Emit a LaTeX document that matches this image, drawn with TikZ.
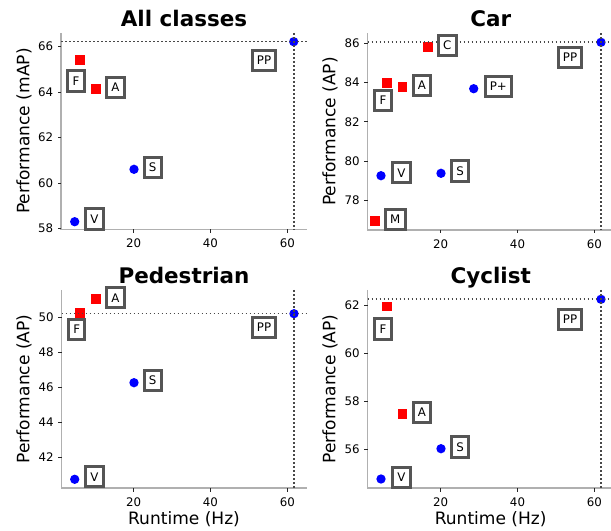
\documentclass[tikz,border=0pt]{standalone}
\usepackage{fontspec}
\setmainfont{DejaVu Sans}
\usepackage{xcolor}

\begin{document}
\begin{tikzpicture}[x=0.75pt,y=0.75pt,yscale=-1,xscale=1,
    spine/.style={draw={rgb, 255:red, 176; green, 176; blue, 176 }, line width=1.1pt},
    tickmark/.style={draw={rgb, 255:red, 38; green, 38; blue, 38 }, line width=0.7pt},
    ylab/.style={anchor=east, inner sep=0pt, xshift=-3pt, font=\fontsize{8.85}{10}\selectfont},
    xlab/.style={anchor=north, inner sep=0pt, yshift=-4.4pt, font=\fontsize{8.85}{10}\selectfont},
    axlabel/.style={inner sep=0pt, font=\fontsize{12.8}{15}\selectfont},
    paneltitle/.style={anchor=base, inner sep=0pt, font=\fontsize{16.1}{19}\selectfont\bfseries},
    best/.style={draw={rgb, 255:red, 72; green, 72; blue, 72 }, line width=1.2pt, dash pattern=on 1.2pt off 1.8pt},
    redmark/.style={rectangle, fill=red, minimum size=7.2pt, inner sep=0pt},
    bluemark/.style={circle, fill=blue, minimum size=7pt, inner sep=0pt},
    tag/.style={draw={rgb, 255:red, 85; green, 85; blue, 85 }, line width=2.25pt, fill=white, inner xsep=3.5pt, inner ysep=0pt, minimum height=15.2pt, font=\fontsize{8.85}{10}\selectfont}
  ]
  \useasboundingbox (0,0) rectangle (611,531);

  %%%%%%%%%%%%%%%% All classes
  % Axes
  \draw[spine] (61,33) -- (61,229.3) -- (307,229.3);
  \draw[tickmark] (61,46.7) -- (57.5,46.7) node[ylab] (allY66) {66};
  \draw[tickmark] (61,92.2) -- (57.5,92.2) node[ylab] (allY64) {64};
  \draw[tickmark] (61,137.7) -- (57.5,137.7) node[ylab] (allY62) {62};
  \draw[tickmark] (61,183.2) -- (57.5,183.2) node[ylab] (allY60) {60};
  \draw[tickmark] (61,228.7) -- (57.5,228.7) node[ylab] (allY58) {58};
  \draw[tickmark] (133.7,229.3) -- (133.7,232.8) node[xlab] (allX20) {20};
  \draw[tickmark] (210.5,229.3) -- (210.5,232.8) node[xlab] (allX40) {40};
  \draw[tickmark] (287.3,229.3) -- (287.3,232.8) node[xlab] (allX60) {60};
  \node[axlabel, rotate=90] (allYlabel) at (24,131) {Performance (mAP)};
  \node[paneltitle] (allTitle) at (184,26.6) {All classes};
  % Methods
  \node[redmark] (allF) at (80,60) {};
  \node[redmark] (allA) at (95.7,89) {};
  \node[bluemark] (allS) at (134,169.3) {};
  \node[bluemark] (allV) at (74.7,221.7) {};
  \node[bluemark] (allPP) at (293.7,41.7) {};
  % Best
  \draw[best] (61,41.7) -- (307,41.7);
  \draw[best] (293.7,33) -- (293.7,229.3);
  % Tags
  \node[tag] (allFtag) at (76,81) {F};
  \node[tag] (allAtag) at (115.3,87.7) {A};
  \node[tag] (allStag) at (152.7,167.7) {S};
  \node[tag] (allVtag) at (94.3,219) {V};
  \node[tag] (allPPtag) at (264,60.3) {PP};

  %%%%%%%%%%%%%%%% Car
  % Axes
  \draw[spine] (367.7,33.3) -- (367.7,230) -- (611,230);
  \draw[tickmark] (367.7,43.3) -- (364.2,43.3) node[ylab] (carY86) {86};
  \draw[tickmark] (367.7,82.6) -- (364.2,82.6) node[ylab] (carY84) {84};
  \draw[tickmark] (367.7,121.8) -- (364.2,121.8) node[ylab] (carY82) {82};
  \draw[tickmark] (367.7,161) -- (364.2,161) node[ylab] (carY80) {80};
  \draw[tickmark] (367.7,200.3) -- (364.2,200.3) node[ylab] (carY78) {78};
  \draw[tickmark] (440.7,230) -- (440.7,233.5) node[xlab] (carX20) {20};
  \draw[tickmark] (517.5,230) -- (517.5,233.5) node[xlab] (carX40) {40};
  \draw[tickmark] (594.3,230) -- (594.3,233.5) node[xlab] (carX60) {60};
  \node[axlabel, rotate=90] (carYlabel) at (330,131.5) {Performance (AP)};
  \node[paneltitle] (carTitle) at (490.7,26.6) {Car};
  % Methods
  \node[redmark] (carC) at (427.7,47.3) {};
  \node[redmark] (carF) at (386.7,83) {};
  \node[redmark] (carA) at (402.3,87.3) {};
  \node[redmark] (carM) at (374.7,221.3) {};
  \node[bluemark] (carPplus) at (473.7,88.7) {};
  \node[bluemark] (carV) at (381,175.7) {};
  \node[bluemark] (carS) at (441,173.3) {};
  \node[bluemark] (carPP) at (601,42.3) {};
  % Best
  \draw[best] (367.7,42.3) -- (611,42.3);
  \draw[best] (601,33.3) -- (601,230);
  % Tags
  \node[tag] (carCtag) at (447.3,45.7) {C};
  \node[tag] (carAtag) at (422,85.3) {A};
  \node[tag] (carFtag) at (383,100.7) {F};
  \node[tag] (carPplustag) at (498.3,86.7) {P+};
  \node[tag] (carVtag) at (401.3,172.7) {V};
  \node[tag] (carStag) at (460,171) {S};
  \node[tag] (carMtag) at (395.3,219.3) {M};
  \node[tag] (carPPtag) at (570,57.3) {PP};

  %%%%%%%%%%%%%%%% Pedestrian
  % Axes
  \draw[spine] (61.7,290) -- (61.7,488) -- (307,488);
  \draw[tickmark] (61.7,317.7) -- (58.2,317.7) node[ylab] (pedY50) {50};
  \draw[tickmark] (61.7,352.6) -- (58.2,352.6) node[ylab] (pedY48) {48};
  \draw[tickmark] (61.7,387.5) -- (58.2,387.5) node[ylab] (pedY46) {46};
  \draw[tickmark] (61.7,422.4) -- (58.2,422.4) node[ylab] (pedY44) {44};
  \draw[tickmark] (61.7,457.3) -- (58.2,457.3) node[ylab] (pedY42) {42};
  \draw[tickmark] (133.7,488) -- (133.7,491.5) node[xlab] (pedX20) {20};
  \draw[tickmark] (210.5,488) -- (210.5,491.5) node[xlab] (pedX40) {40};
  \draw[tickmark] (287.3,488) -- (287.3,491.5) node[xlab] (pedX60) {60};
  \node[axlabel, rotate=90] (pedYlabel) at (24,389) {Performance (AP)};
  \node[axlabel] (pedXlabel) at (184,519.5) {Runtime (Hz)};
  \node[paneltitle] (pedTitle) at (184,283.3) {Pedestrian};
  % Methods
  \node[redmark] (pedA) at (96,299.3) {};
  \node[redmark] (pedF) at (80,313) {};
  \node[bluemark] (pedS) at (134,382.7) {};
  \node[bluemark] (pedV) at (74.7,479.3) {};
  \node[bluemark] (pedPP) at (294,313.7) {};
  % Best
  \draw[best] (61.7,313.7) -- (307,313.7);
  \draw[best] (294,290) -- (294,488);
  % Tags
  \node[tag] (pedAtag) at (115.3,297.7) {A};
  \node[tag] (pedFtag) at (76.7,329.3) {F};
  \node[tag] (pedStag) at (152.7,380.7) {S};
  \node[tag] (pedVtag) at (94.3,476.7) {V};
  \node[tag] (pedPPtag) at (264,327.3) {PP};

  %%%%%%%%%%%%%%%% Cyclist
  % Axes
  \draw[spine] (367.7,290) -- (367.7,488) -- (611,488);
  \draw[tickmark] (367.7,305.3) -- (364.2,305.3) node[ylab] (cycY62) {62};
  \draw[tickmark] (367.7,353.3) -- (364.2,353.3) node[ylab] (cycY60) {60};
  \draw[tickmark] (367.7,401.3) -- (364.2,401.3) node[ylab] (cycY58) {58};
  \draw[tickmark] (367.7,449.3) -- (364.2,449.3) node[ylab] (cycY56) {56};
  \draw[tickmark] (440.7,488) -- (440.7,491.5) node[xlab] (cycX20) {20};
  \draw[tickmark] (517.5,488) -- (517.5,491.5) node[xlab] (cycX40) {40};
  \draw[tickmark] (594.3,488) -- (594.3,491.5) node[xlab] (cycX60) {60};
  \node[axlabel, rotate=90] (cycYlabel) at (330,389) {Performance (AP)};
  \node[axlabel] (cycXlabel) at (490.7,519.5) {Runtime (Hz)};
  \node[paneltitle] (cycTitle) at (490.7,283.3) {Cyclist};
  % Methods
  \node[redmark] (cycF) at (387,306.7) {};
  \node[redmark] (cycA) at (402.3,413.7) {};
  \node[bluemark] (cycS) at (441,448.7) {};
  \node[bluemark] (cycV) at (381,479) {};
  \node[bluemark] (cycPP) at (601,299.3) {};
  % Best
  \draw[best] (367.7,299.3) -- (611,299.3);
  \draw[best] (601,290) -- (601,488);
  % Tags
  \node[tag] (cycFtag) at (383,329) {F};
  \node[tag] (cycAtag) at (422,412.3) {A};
  \node[tag] (cycStag) at (460,447) {S};
  \node[tag] (cycVtag) at (401.3,477.3) {V};
  \node[tag] (cycPPtag) at (570,319.3) {PP};

\end{tikzpicture}
\end{document}
